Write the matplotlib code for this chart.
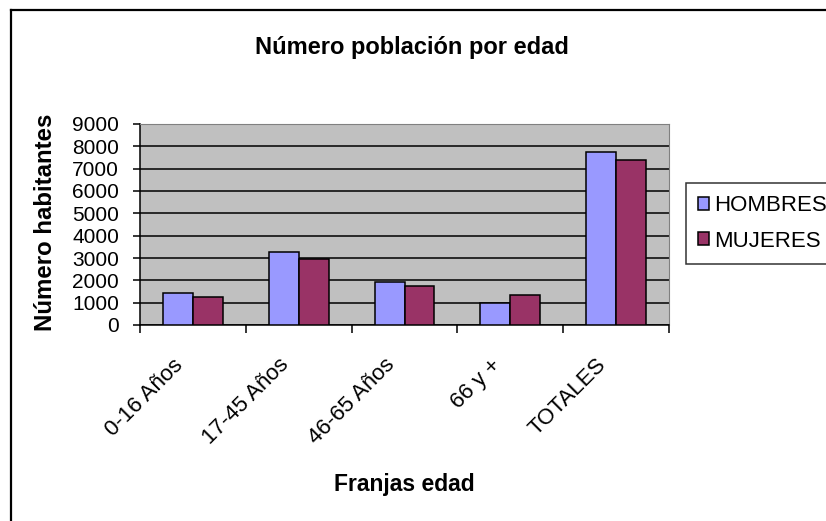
import matplotlib
matplotlib.use("Agg")
import matplotlib.pyplot as plt
import matplotlib.lines as mlines
from matplotlib.transforms import ScaledTranslation
import numpy as np

plt.rcParams["font.family"] = ["Liberation Sans", "DejaVu Sans"]

CATEGORIES = ["0-16 Años", "17-45 Años", "46-65 Años", "66 y +", "TOTALES"]
HOMBRES = [1420, 3270, 1910, 1000, 7750]
MUJERES = [1240, 2940, 1760, 1340, 7400]
YTICKS = list(range(0, 9001, 1000))

C_H = "#9999FF"
C_M = "#993366"
BG = "#C0C0C0"

W, H = 826, 521
fig = plt.figure(figsize=(W / 100, H / 100), dpi=100)
ax = fig.add_axes([140 / W, 1 - 325 / H, 529 / W, 201 / H])
ax.set_facecolor(BG)

x = np.arange(len(CATEGORIES))
bw = 0.283
ax.bar(x - bw, HOMBRES, width=bw, align="edge", color=C_H,
       edgecolor="black", linewidth=1.1, label="HOMBRES", zorder=3)
ax.bar(x, MUJERES, width=bw, align="edge", color=C_M,
       edgecolor="black", linewidth=1.1, label="MUJERES", zorder=3)

ax.set_xlim(-0.5, len(CATEGORIES) - 0.5)
ax.set_ylim(0, 9000)
ax.set_yticks(YTICKS)
ax.set_yticklabels([str(v) for v in YTICKS], fontsize=15)
ax.yaxis.grid(True, color="black", linewidth=1.1, zorder=1)
ax.set_axisbelow(True)
ax.set_xticks(np.arange(-0.5, len(CATEGORIES)), labels=[])
ax.tick_params(axis="y", length=5, width=1.1, pad=10)
ax.tick_params(axis="x", length=5.5, width=1.1)

for sp in ("top", "right"):
    ax.spines[sp].set_color("#808080")
    ax.spines[sp].set_linewidth(0.8)
for sp in ("left", "bottom"):
    ax.spines[sp].set_color("black")
    ax.spines[sp].set_linewidth(1.1)

# category labels, rotated like the spreadsheet
off = ScaledTranslation(-13 / 100, -37 / 100, fig.dpi_scale_trans)
for i, lab in enumerate(CATEGORIES):
    ax.text(i, 0, lab, transform=ax.get_xaxis_transform() + off,
            rotation=45, ha="right", va="center", rotation_mode="anchor",
            fontsize=16)

fig.text(412 / W, 1 - 47 / H, "Número población por edad", ha="center",
         va="center", fontsize=17, fontweight="bold")
fig.text(404 / W, 1 - 485 / H, "Franjas edad", ha="center", va="center",
         fontsize=16.5, fontweight="bold")
fig.text(46 / W, 1 - 222 / H, "Número habitantes", ha="center",
         va="center", rotation=90, fontsize=17.3, fontweight="bold")

leg = fig.legend(loc="upper left", bbox_to_anchor=(686 / W, 1 - 183 / H),
                 fontsize=16, frameon=True, fancybox=False, shadow=False,
                 borderaxespad=0, borderpad=0.55, labelspacing=0.65,
                 handlelength=0.5, handleheight=0.5, handletextpad=0.2)
leg.get_frame().set_edgecolor("black")
leg.get_frame().set_linewidth(1.1)

# outer chart border (left and top edges visible)
fig.add_artist(mlines.Line2D([11 / W, 11 / W], [0, 1 - 10 / H],
                             color="black", linewidth=1.6,
                             transform=fig.transFigure))
fig.add_artist(mlines.Line2D([11 / W, 1], [1 - 10 / H, 1 - 10 / H],
                             color="black", linewidth=1.6,
                             transform=fig.transFigure))

fig.savefig("out.png", dpi=100)
